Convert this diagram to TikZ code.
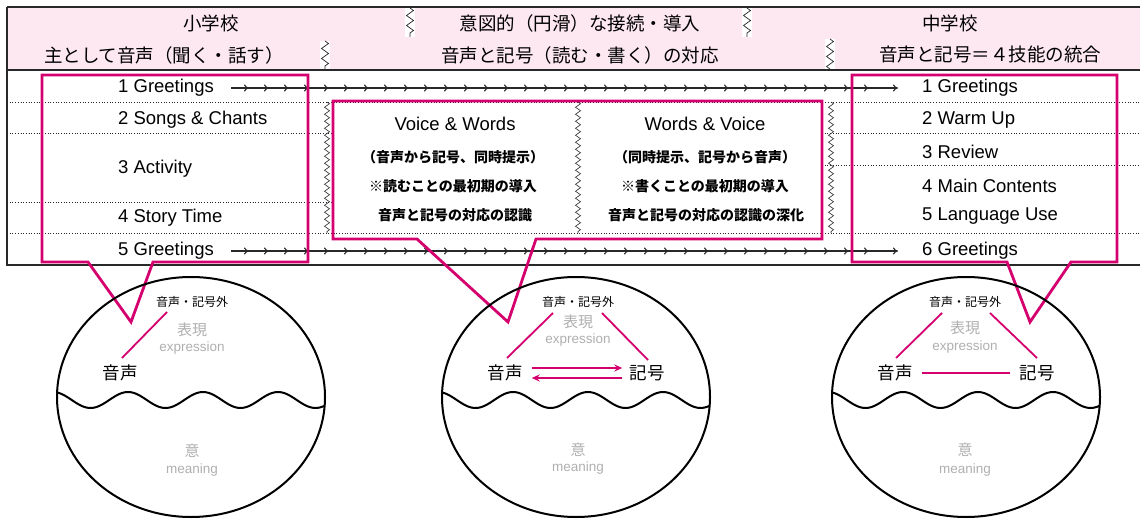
\documentclass[tikz,border=0pt]{standalone}
\usepackage{fontspec}
\setmainfont{Liberation Sans}
\newfontfamily\jp{Noto Sans CJK JP}
\usetikzlibrary{decorations.markings,decorations.pathmorphing,arrows.meta}
\definecolor{mag}{RGB}{212,0,110}
\definecolor{hdr}{RGB}{253,232,241}
\definecolor{lgray}{RGB}{175,175,175}
\definecolor{rule}{RGB}{40,40,40}
\tikzset{
  item/.style={anchor=west, inner sep=0pt, font=\fontsize{18.5}{20}\selectfont},
  head/.style={inner sep=0pt, font=\jp\fontsize{18.5}{20}\selectfont},
  vw/.style={inner sep=0pt, font=\fontsize{18.5}{20}\selectfont},
  mid/.style={inner sep=0pt, font=\jp\bfseries\fontsize{14}{16}\selectfont},
  dotrule/.style={rule, line width=0.7pt, dotted},
  zz/.style={rule, line width=0.6pt, decorate, decoration={zigzag, segment length=7pt, amplitude=2.5pt}},
  hz/.style={rule, line width=0.7pt, decorate, decoration={zigzag, segment length=10pt, amplitude=3.5pt}},
  callout/.style={mag, line width=2.8pt, line join=miter},
  chain/.style={rule, line width=1.1pt, -{To[length=5pt,width=7pt]}, postaction={decorate},
    decoration={markings, mark=between positions 18pt and 645pt step 20pt with {\arrow{To[length=5pt,width=7pt]}}}},
  sm/.style={inner sep=0pt, font=\jp\fontsize{12}{14}\selectfont},
  ghj/.style={inner sep=0pt, text=lgray, font=\jp\fontsize{15}{16}\selectfont},
  ghe/.style={inner sep=0pt, text=lgray, font=\fontsize{13.5}{15}\selectfont},
  big/.style={inner sep=1pt, font=\jp\fontsize{17.5}{19}\selectfont},
  mline/.style={mag, line width=1.8pt},
  marr/.style={mag, line width=1.8pt, -{Stealth[length=8pt,width=7pt]}},
  circ/.style={black, line width=2pt},
  wave/.style={black, line width=2pt}
}
\begin{document}
\begin{tikzpicture}[x=1pt,y=-1pt]
\useasboundingbox (0,0) rectangle (1140,521);
% header
\fill[hdr] (7,7) rectangle (1140,70);
\draw[rule, line width=1.2pt] (7,7) -- (1140,7);
\draw[rule, line width=1.2pt] (7,70) -- (1140,70);
\draw[rule, line width=1.2pt] (7,7) -- (7,265) -- (1140,265);
% header zigzags
\foreach \x/\ya/\yb in {410/8/37, 747/8/37, 325/41/69, 830/39/69}{
  \fill[white] (\x-5,\ya) rectangle (\x+5,\yb);
  \draw[hz] (\x,\ya) -- (\x,\yb);
}
\node[head] (h1) at (211,23) {小学校};
\node[head] (h2) at (164,55) {主として音声（聞く・話す）};
\node[head] (h3) at (580,23) {意図的（円滑）な接続・導入};
\node[head] (h4) at (580,55) {音声と記号（読む・書く）の対応};
\node[head] (h5) at (950,23) {中学校};
\node[head] (h6) at (990,55) {音声と記号＝４技能の統合};
% body rules
\draw[dotrule] (7,102) -- (1140,102);
\draw[dotrule] (7,233) -- (1140,233);
\draw[dotrule] (7,133) -- (333,133);
\draw[dotrule] (7,202) -- (333,202);
\draw[dotrule] (822,133) -- (1140,133);
\draw[dotrule] (822,165) -- (1140,165);
\draw[zz] (327,102) -- (327,233);
\draw[zz] (578,102) -- (578,233);
\draw[zz] (831,102) -- (831,233);
% left column
\node[item] (l1) at (118,88) {1 Greetings};
\node[item] (l2) at (118,120) {2 Songs \& Chants};
\node[item] (l3) at (118,169) {3 Activity};
\node[item] (l4) at (118,218) {4 Story Time};
\node[item] (l5) at (118,251) {5 Greetings};
% right column
\node[item] (r1) at (922,88) {1 Greetings};
\node[item] (r2) at (922,120) {2 Warm Up};
\node[item] (r3) at (922,152) {3 Review};
\node[item] (r4) at (922,186) {4 Main Contents};
\node[item] (r5) at (922,216) {5 Language Use};
\node[item] (r6) at (922,251) {6 Greetings};
% chains
\draw[chain] ([xshift=17pt]l1.east) -- ([xshift=-24pt]r1.west);
\draw[chain] ([xshift=17pt]l5.east) -- ([xshift=-24pt]r6.west);
% middle texts
\node[vw] (vw) at (455,124) {Voice \& Words};
\node[mid] (m1) at (453,157) {（音声から記号、同時提示）};
\node[mid] (m2) at (453,186) {※読むことの最初期の導入};
\node[mid] (m3) at (455,215) {音声と記号の対応の認識};
\node[vw] (wv) at (705,124) {Words \& Voice};
\node[mid] (n1) at (705,157) {（同時提示、記号から音声）};
\node[mid] (n2) at (705,186) {※書くことの最初期の導入};
\node[mid] (n3) at (706,215) {音声と記号の対応の認識の深化};
% callout boxes
\draw[callout] (42,75) -- (308,75) -- (308,262) -- (153,262) -- (131,322) -- (88,262) -- (42,262) -- cycle;
\draw[callout] (333,101) -- (822,101) -- (822,239) -- (536,239) -- (508,322) -- (417,239) -- (333,239) -- cycle;
\draw[callout] (852,75) -- (1117,75) -- (1117,262) -- (1071,262) -- (1030,322) -- (1007,262) -- (852,262) -- cycle;
% circles
\foreach \cx in {191,576,966}{
  \begin{scope}
    \clip (\cx,397) ellipse [x radius=134, y radius=120];
    \draw[wave] plot[domain=-140:140, samples=120] ({\cx+\x},{400-8*cos(4.8*(\x+63))});
  \end{scope}
  \draw[circ] (\cx,397) ellipse [x radius=134, y radius=120];
}
% left circle
\node[sm] (a0) at (192,302) {音声・記号外};
\node[ghj] (a1) at (192,330) {表現};
\node[ghe] (a2) at (192,348) {expression};
\node[big] (a3) at (120,373) {音声};
\node[ghj] (a4) at (192,451) {意};
\node[ghe] (a5) at (192,470) {meaning};
\draw[mline] (122,358) -- (167,312);
% middle circle
\node[sm] (b0) at (578,302) {音声・記号外};
\node[ghj] (b1) at (578,322) {表現};
\node[ghe] (b2) at (578,340) {expression};
\node[big] (b3) at (505,373) {音声};
\node[big] (b4) at (647,373) {記号};
\node[ghj] (b5) at (578,450) {意};
\node[ghe] (b6) at (578,468) {meaning};
\draw[mline] (507,358) -- (553,313);
\draw[mline] (602,313) -- (648,360);
\draw[marr] ([yshift=5pt,xshift=8pt]b3.east) -- ([yshift=5pt,xshift=-6pt]b4.west);
\draw[marr] ([yshift=-5pt,xshift=-6pt]b4.west) -- ([yshift=-5pt,xshift=8pt]b3.east);
% right circle
\node[sm] (c0) at (965,302) {音声・記号外};
\node[ghj] (c1) at (965,328) {表現};
\node[ghe] (c2) at (965,347) {expression};
\node[big] (c3) at (895,373) {音声};
\node[big] (c4) at (1037,373) {記号};
\node[ghj] (c5) at (965,450) {意};
\node[ghe] (c6) at (965,470) {meaning};
\draw[mline] (896,358) -- (942,313);
\draw[mline] (990,313) -- (1037,358);
\draw[mline] ([xshift=8pt]c3.east) -- ([xshift=-8pt]c4.west);
\end{tikzpicture}
\end{document}
